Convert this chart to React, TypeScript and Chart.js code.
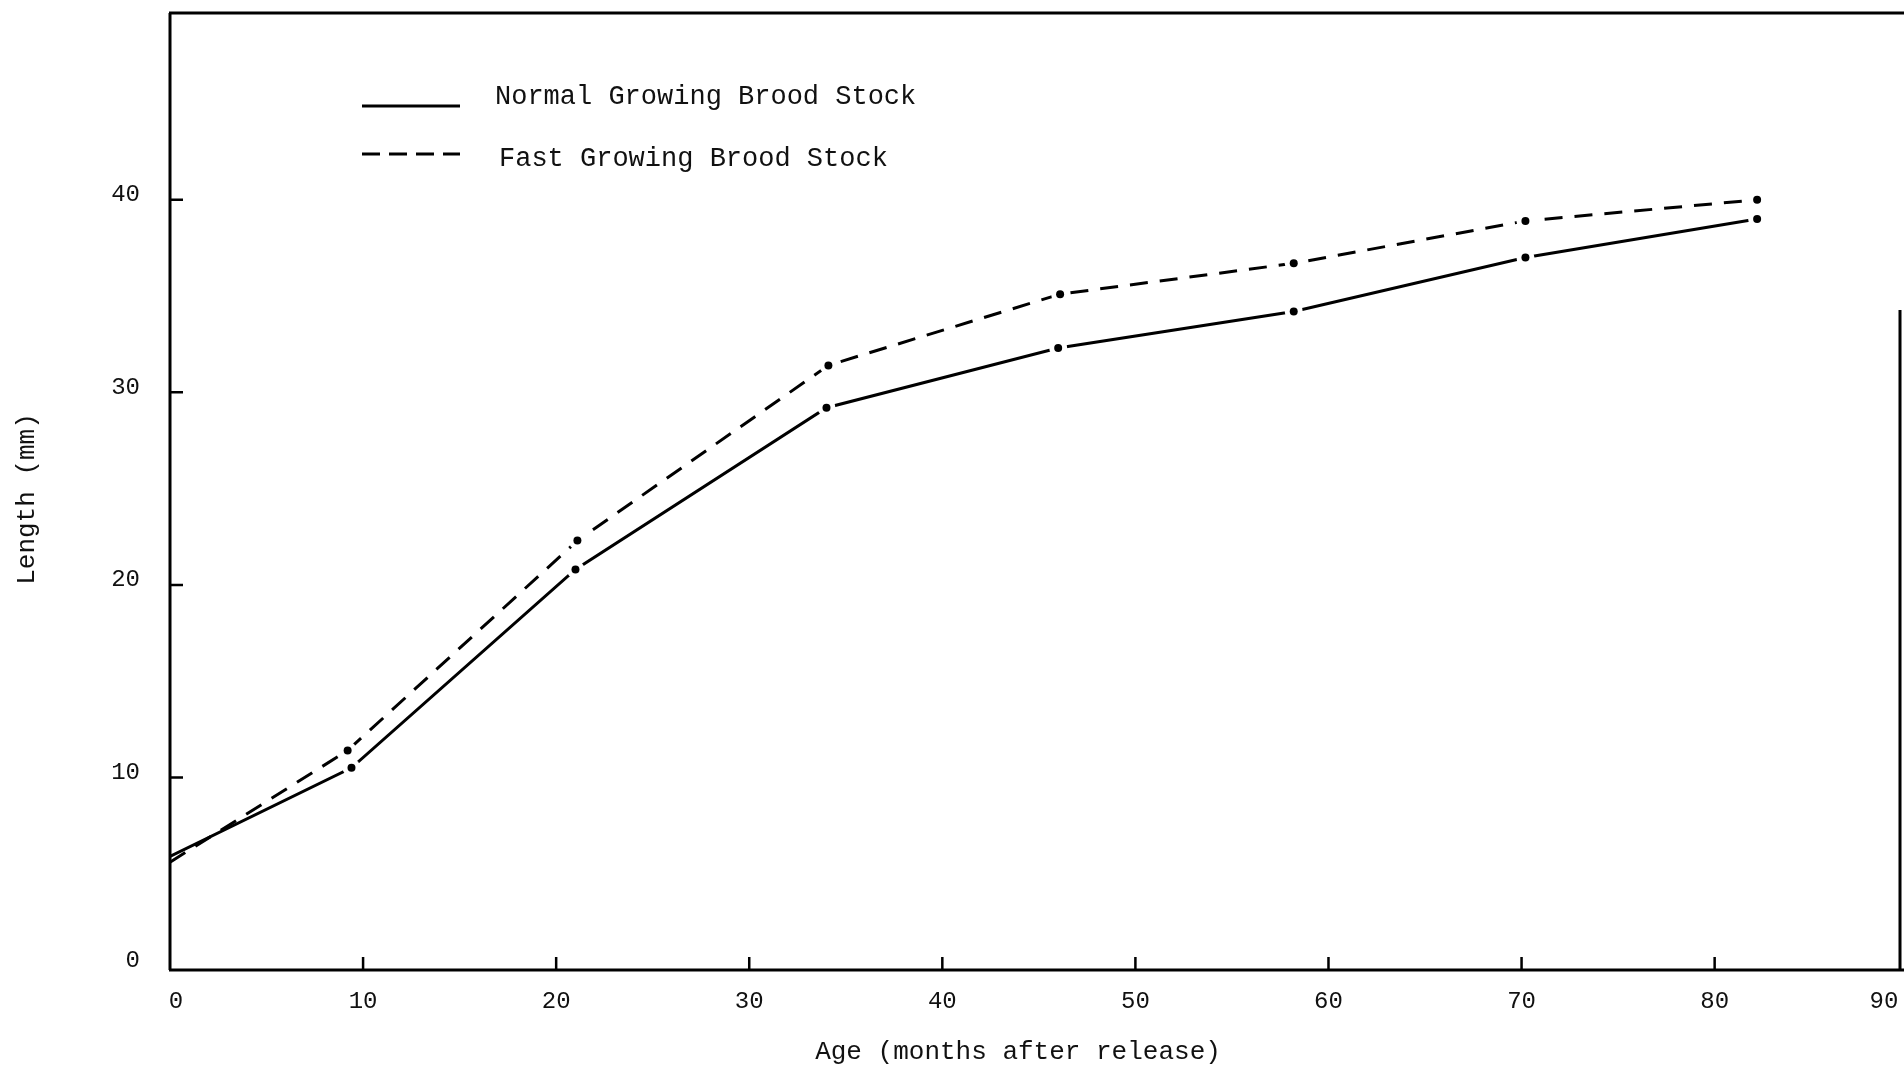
import React, { useEffect, useRef } from "react";
import { Chart, registerables } from "chart.js";

Chart.register(...registerables);

const normalAge = [0, 9.4, 21.0, 34.0, 46.0, 58.2, 70.2, 82.2];
const normalLength = [5.9, 10.5, 20.8, 29.2, 32.3, 34.2, 37.0, 39.0];
const fastAge = [0, 9.2, 21.1, 34.1, 46.1, 58.2, 70.2, 82.2];
const fastLength = [5.6, 11.4, 22.3, 31.4, 35.1, 36.7, 38.9, 40.0];
const xTicks = [0, 10, 20, 30, 40, 50, 60, 70, 80, 90];
const yTicks = [0, 10, 20, 30, 40];
const seriesNames = ["Normal Growing Brood Stock", "Fast Growing Brood Stock"];
const xTitle = "Age (months after release)";
const yTitle = "Length (mm)";

const FONT = "'Liberation Mono', 'DejaVu Sans Mono', monospace";

const framePlugin = {
  id: "frame",
  beforeDatasetsDraw(chart: any) {
    const { ctx, chartArea, scales } = chart;
    const x = scales.x;
    const y = scales.y;
    const W = chart.width;
    ctx.save();
    ctx.strokeStyle = "#000";
    ctx.lineWidth = 3;
    ctx.lineCap = "butt";
    ctx.beginPath();
    ctx.moveTo(chartArea.left, chartArea.top);
    ctx.lineTo(chartArea.left, chartArea.bottom);
    ctx.moveTo(chartArea.left - 1, chartArea.top);
    ctx.lineTo(W, chartArea.top);
    ctx.moveTo(chartArea.left - 1, chartArea.bottom);
    ctx.lineTo(W, chartArea.bottom);
    ctx.moveTo(chartArea.right, 310);
    ctx.lineTo(chartArea.right, chartArea.bottom);
    ctx.stroke();

    ctx.lineWidth = 2.5;
    ctx.beginPath();
    yTicks.forEach((v) => {
      if (v === 0) return;
      const py = y.getPixelForValue(v);
      ctx.moveTo(chartArea.left, py);
      ctx.lineTo(chartArea.left + 13, py);
    });
    xTicks.forEach((v) => {
      if (v === 0 || v > x.max) return;
      const px = x.getPixelForValue(v);
      ctx.moveTo(px, chartArea.bottom);
      ctx.lineTo(px, chartArea.bottom - 13);
    });
    ctx.stroke();

    ctx.fillStyle = "#111";
    ctx.font = `24px ${FONT}`;
    ctx.textAlign = "right";
    ctx.textBaseline = "middle";
    yTicks.forEach((v) => {
      const py = y.getPixelForValue(v);
      ctx.fillText(String(v), 140, py - (v === 0 ? 9 : 5));
    });
    ctx.textAlign = "center";
    xTicks.forEach((v) => {
      let px = x.getPixelForValue(v);
      if (v === 0) px += 6;
      if (px > 1884) px = 1884;
      ctx.fillText(String(v), px, 1002);
    });

    ctx.font = `26px ${FONT}`;
    ctx.fillText(xTitle, 1018, 1052);
    ctx.save();
    ctx.translate(27, 499);
    ctx.rotate(-Math.PI / 2);
    ctx.fillText(yTitle, 0, 0);
    ctx.restore();

    // legend
    ctx.font = `27px ${FONT}`;
    ctx.textAlign = "left";
    ctx.textBaseline = "alphabetic";
    ctx.fillText(seriesNames[0], 495, 104);
    ctx.fillText(seriesNames[1], 499, 166);
    ctx.lineWidth = 3;
    ctx.beginPath();
    ctx.moveTo(362, 106);
    ctx.lineTo(460, 106);
    ctx.stroke();
    ctx.setLineDash([18, 9]);
    ctx.beginPath();
    ctx.moveTo(362, 154);
    ctx.lineTo(460, 154);
    ctx.stroke();
    ctx.restore();
  },
  afterDatasetsDraw(chart: any) {
    const { ctx } = chart;
    ctx.save();
    const metas = chart.data.datasets.map((_: any, i: number) => chart.getDatasetMeta(i));
    ctx.fillStyle = "#fff";
    metas.forEach((meta: any) => {
      meta.data.forEach((pt: any, i: number) => {
        if (i === 0) return;
        ctx.beginPath();
        ctx.arc(pt.x, pt.y, 9, 0, Math.PI * 2);
        ctx.fill();
      });
    });
    ctx.fillStyle = "#000";
    metas.forEach((meta: any) => {
      meta.data.forEach((pt: any, i: number) => {
        if (i === 0) return;
        ctx.beginPath();
        ctx.arc(pt.x, pt.y, 4, 0, Math.PI * 2);
        ctx.fill();
      });
    });
    ctx.restore();
  },
};

export default function App() {
  const ref = useRef<HTMLCanvasElement | null>(null);
  useEffect(() => {
    if (!ref.current) return;
    const chart = new Chart(ref.current, {
      type: "scatter",
      data: {
        datasets: [
          {
            label: seriesNames[0],
            data: normalAge.map((a, i) => ({ x: a, y: normalLength[i] })),
            showLine: true,
            borderColor: "#000",
            borderWidth: 3,
            pointRadius: 0,
            tension: 0,
          },
          {
            label: seriesNames[1],
            data: fastAge.map((a, i) => ({ x: a, y: fastLength[i] })),
            showLine: true,
            borderColor: "#000",
            borderWidth: 3,
            borderDash: [18, 12],
            pointRadius: 0,
            tension: 0,
          },
        ],
      },
      options: {
        animation: false,
        responsive: true,
        maintainAspectRatio: false,
        layout: { padding: { left: 170, right: 4, top: 13, bottom: 100 } },
        plugins: { legend: { display: false }, tooltip: { enabled: false } },
        scales: {
          x: { type: "linear", min: 0, max: 89.6, display: false },
          y: { type: "linear", min: 0, max: 49.7, display: false },
        },
      },
      plugins: [framePlugin],
    });
    return () => chart.destroy();
  }, []);
  return (
    <div
      style={{
        position: "fixed",
        left: 0,
        top: 0,
        width: 1904,
        height: 1070,
        background: "#fff",
        overflow: "hidden",
      }}
    >
      <canvas ref={ref} />
    </div>
  );
}
